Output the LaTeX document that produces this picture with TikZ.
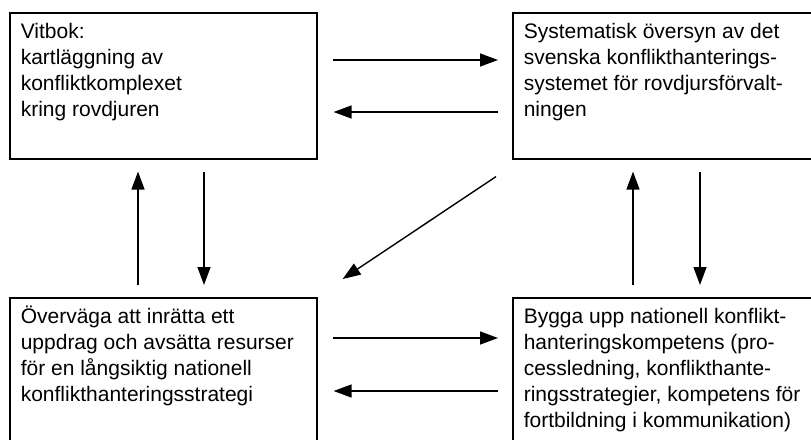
\documentclass[tikz,border=0pt]{standalone}
\usepackage{fontspec}
\setmainfont{Liberation Sans}
\usetikzlibrary{arrows.meta}

% text block of a box, top aligned, first baseline fixed
\newcommand{\boxtext}[2]{\makebox[285pt][l]{\parbox[t][#1][t]{330pt}{\fontsize{21}{26}\selectfont\rule{0pt}{24pt}#2}}}

\begin{document}
\begin{tikzpicture}[
        x=1pt,y=-1pt,
        box/.style={draw,line width=1.6pt,anchor=north west,inner xsep=11pt,inner ysep=2pt,align=left},
        arr/.style={-{Triangle[length=18pt,width=13pt]},line width=1.4pt}
      ]
      \clip (0,0) rectangle (811,439);

      % the four boxes
      \node[box] (vit) at (9,12) {\boxtext{142pt}{Vitbok:\\kartläggning av\\konfliktkomplexet\\kring rovdjuren}};
      \node[box] (sys) at (512,12) {\boxtext{142pt}{Systematisk översyn av det\\svenska konflikthanterings-\\systemet för rovdjursförvalt-\\ningen}};
      \node[box] (ovr) at (9,297) {\boxtext{170pt}{Överväga att inrätta ett\\uppdrag och avsätta resurser\\för en långsiktig nationell\\konflikthanteringsstrategi}};
      \node[box] (byg) at (512,297) {\boxtext{170pt}{Bygga upp nationell konflikt-\\hanteringskompetens (pro-\\cessledning, konflikthante-\\ringsstrategier, kompetens för\\fortbildning i kommunikation)}};

      % top row
      \draw[arr] ([shift={(15pt,-48pt)}]vit.north east) -- ([shift={(-14pt,-48pt)}]sys.north west);
      \draw[arr] ([shift={(-14pt,-100pt)}]sys.north west) -- ([shift={(16pt,-100pt)}]vit.north east);

      % bottom row
      \draw[arr] ([shift={(15pt,-41pt)}]ovr.north east) -- ([shift={(-14pt,-41pt)}]byg.north west);
      \draw[arr] ([shift={(-14pt,-94pt)}]byg.north west) -- ([shift={(16pt,-94pt)}]ovr.north east);

      % left column
      \draw[arr] ([shift={(129pt,12pt)}]ovr.north west) -- ([shift={(129pt,-12pt)}]vit.south west);
      \draw[arr] ([shift={(195pt,-12pt)}]vit.south west) -- ([shift={(195pt,12pt)}]ovr.north west);

      % right column
      \draw[arr] ([shift={(121pt,12pt)}]byg.north west) -- ([shift={(121pt,-12pt)}]sys.south west);
      \draw[arr] ([shift={(188pt,-12pt)}]sys.south west) -- ([shift={(188pt,12pt)}]byg.north west);

      % across
      \draw[arr] ([shift={(-16pt,-17pt)}]sys.south west) -- ([shift={(25pt,18pt)}]ovr.north east);
    \end{tikzpicture}
\end{document}
